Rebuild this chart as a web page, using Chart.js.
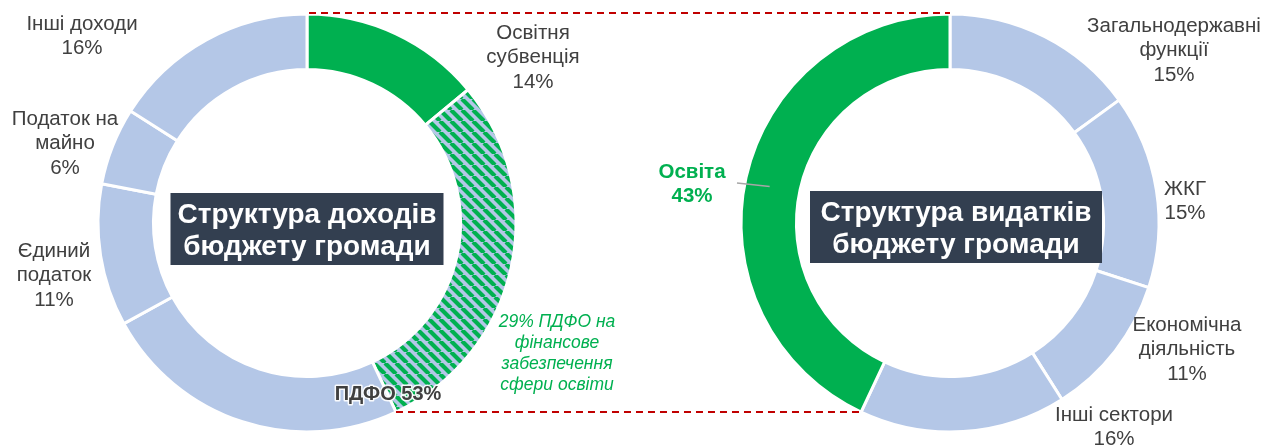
<!DOCTYPE html>
<html lang="uk">
<head>
<meta charset="utf-8">
<script src="https://cdn.jsdelivr.net/npm/chart.js@4.4.1/dist/chart.umd.min.js"></script>
<style>
    html, body { margin: 0; padding: 0; background: #fff; }
    #wrap { position: relative; width: 1272px; height: 445px; overflow: hidden; }
    #wrap canvas { position: absolute; top: 0; }
    #incomeChart { left: 0; }
    #spendChart { left: 636px; }
    #links { left: 0; pointer-events: none; }
</style>
</head>
<body>
<div id="wrap">
    <canvas id="incomeChart" width="636" height="445"></canvas>
    <canvas id="spendChart" width="636" height="445"></canvas>
    <canvas id="links" width="1272" height="445"></canvas>
</div>
<script>
// Структура доходів (за годинниковою стрілкою від верху)
const incomeCategories = ['Освітня субвенція', 'ПДФО на освіту', 'ПДФО (решта)', 'Єдиний податок', 'Податок на майно', 'Інші доходи'];
const incomeValues = [14, 29, 24, 11, 6, 16];

// Структура видатків
const spendCategories = ['Загальнодержавні функції', 'ЖКГ', 'Економічна діяльність', 'Інші сектори', 'Освіта'];
const spendValues = [15, 15, 11, 16, 43];

const BLUE = '#B4C7E7';
const GREEN = '#00B050';
const TEXT = '#404040';
const BOX = '#333F50';
const LINK = '#C00000';

const FONT = '"Liberation Sans", Arial, sans-serif';

// штрихування для частини ПДФО, що йде на освіту
function makeHatch() {
    const size = 11;
    const c = document.createElement('canvas');
    c.width = size;
    c.height = size;
    const g = c.getContext('2d');
    g.fillStyle = BLUE;
    g.fillRect(0, 0, size, size);
    g.strokeStyle = GREEN;
    g.lineWidth = 4.2;
    g.beginPath();
    [-size, 0, size].forEach(k => {
        g.moveTo(k, 0);
        g.lineTo(k + size, size);
    });
    g.stroke();
    return g.createPattern(c, 'repeat');
}

function pct(v) { return v + '%'; }

// підписи: {lines, x, y, font, color} (x, y - сторінка)
const incomeText = [
    { lines: ['Освітня', 'субвенція', pct(incomeValues[0])], x: 533, y: 33 },
    { lines: ['ПДФО ' + pct(incomeValues[1] + incomeValues[2])], x: 388, y: 394, font: 'bold 20px ' + FONT, halo: true },
    { lines: [pct(incomeValues[1]) + ' ПДФО на', 'фінансове', 'забезпечення', 'сфери освіти'], x: 557, y: 322, font: 'italic 17.5px ' + FONT, color: GREEN, lh: 21 },
    { lines: ['Єдиний', 'податок', pct(incomeValues[3])], x: 54, y: 251 },
    { lines: ['Податок на', 'майно', pct(incomeValues[4])], x: 65, y: 119 },
    { lines: ['Інші доходи', pct(incomeValues[5])], x: 82, y: 24 }
];

const spendText = [
    { lines: ['Загальнодержавні', 'функції', pct(spendValues[0])], x: 1174, y: 26 },
    { lines: ['ЖКГ', pct(spendValues[1])], x: 1185, y: 189 },
    { lines: ['Економічна', 'діяльність', pct(spendValues[2])], x: 1187, y: 325 },
    { lines: ['Інші сектори', pct(spendValues[3])], x: 1114, y: 415 },
    { lines: ['Освіта', pct(spendValues[4])], x: 692, y: 172, font: 'bold 20.5px ' + FONT, color: GREEN }
];

function drawLine(ctx, text, x, y, font, color, halo) {
    ctx.save();
    ctx.font = font;
    ctx.textAlign = 'center';
    ctx.textBaseline = 'middle';
    if (halo) {
        ctx.strokeStyle = 'rgba(255,255,255,0.9)';
        ctx.lineWidth = 3;
        ctx.lineJoin = 'round';
        ctx.strokeText(text, x, y);
    }
    ctx.fillStyle = color;
    ctx.fillText(text, x, y);
    ctx.restore();
}

const ringText = {
    id: 'ringText',
    afterDraw(chart, args, opts) {
        const ctx = chart.ctx;
        const arc = chart.getDatasetMeta(0).data[0];
        const cx = arc.x, cy = arc.y;

        // темна плашка з назвою
        ctx.save();
        ctx.fillStyle = BOX;
        ctx.fillRect(cx - opts.boxW / 2 + opts.boxDx, cy - 36 + opts.boxDy, opts.boxW, 72);
        ctx.restore();
        opts.title.forEach((t, i) => {
            drawLine(ctx, t, cx + opts.boxDx, cy + opts.boxDy - 14 + i * 32, 'bold 28px ' + FONT, '#fff');
        });

        opts.items.forEach(it => {
            const lh = it.lh || 24.5;
            it.lines.forEach((t, i) => {
                drawLine(ctx, t, it.x - opts.left, it.y + i * lh,
                    it.font || '20.5px ' + FONT, it.color || TEXT, it.halo);
            });
        });
    }
};

function ringOptions(padLeft, padRight, textOpts) {
    return {
        responsive: false,
        animation: false,
        radius: 209,
        cutout: 162,
        layout: { padding: { left: padLeft, right: padRight, top: 1, bottom: 0 } },
        plugins: {
            legend: { display: false },
            tooltip: { enabled: false },
            ringText: textOpts
        }
    };
}

const incomeChart = new Chart(document.getElementById('incomeChart'), {
    type: 'doughnut',
    data: {
        labels: incomeCategories,
        datasets: [{
            data: incomeValues,
            backgroundColor: [GREEN, makeHatch(), BLUE, BLUE, BLUE, BLUE],
            borderColor: '#fff',
            borderWidth: 3
        }]
    },
    options: ringOptions(0, 22, {
        left: 0,
        items: incomeText,
        title: ['Структура доходів', 'бюджету громади'],
        boxW: 273, boxDx: 0, boxDy: 6
    }),
    plugins: [ringText]
});

const spendChart = new Chart(document.getElementById('spendChart'), {
    type: 'doughnut',
    data: {
        labels: spendCategories,
        datasets: [{
            data: spendValues,
            backgroundColor: [BLUE, BLUE, BLUE, BLUE, GREEN],
            borderColor: '#fff',
            borderWidth: 3
        }]
    },
    options: ringOptions(0, 8, {
        left: 636,
        items: spendText,
        title: ['Структура видатків', 'бюджету громади'],
        boxW: 292, boxDx: 6, boxDy: 4
    }),
    plugins: [ringText]
});

// пунктирні лінії між кільцями + виноска "Освіта"
function edgePoint(chart, index, which, offsetX) {
    const a = chart.getDatasetMeta(0).data[index];
    const ang = which === 'start' ? a.startAngle : a.endAngle;
    return {
        x: offsetX + a.x + a.outerRadius * Math.cos(ang),
        y: a.y + a.outerRadius * Math.sin(ang)
    };
}

function drawLinks() {
    const ctx = document.getElementById('links').getContext('2d');
    const top1 = edgePoint(incomeChart, 0, 'start', 0);
    const bot1 = edgePoint(incomeChart, 1, 'end', 0);
    const top2 = edgePoint(spendChart, 4, 'end', 636);
    const bot2 = edgePoint(spendChart, 4, 'start', 636);

    ctx.save();
    ctx.strokeStyle = LINK;
    ctx.lineWidth = 2;
    ctx.setLineDash([7, 5]);
    ctx.beginPath();
    ctx.moveTo(top1.x + 2, top1.y - 1);
    ctx.lineTo(top2.x, top2.y - 1);
    ctx.moveTo(bot1.x, bot1.y);
    ctx.lineTo(bot2.x, bot2.y);
    ctx.stroke();
    ctx.restore();

    // виноска до сектора "Освіта"
    const a = spendChart.getDatasetMeta(0).data[4];
    const mid = (a.startAngle + a.endAngle) / 2;
    ctx.save();
    ctx.strokeStyle = '#A6A6A6';
    ctx.lineWidth = 1.5;
    ctx.beginPath();
    ctx.moveTo(737, 183);
    ctx.lineTo(636 + a.x + (a.outerRadius - 25) * Math.cos(mid - 0.02), a.y + (a.outerRadius - 25) * Math.sin(mid - 0.02));
    ctx.stroke();
    ctx.restore();
}

drawLinks();
</script>
</body>
</html>
